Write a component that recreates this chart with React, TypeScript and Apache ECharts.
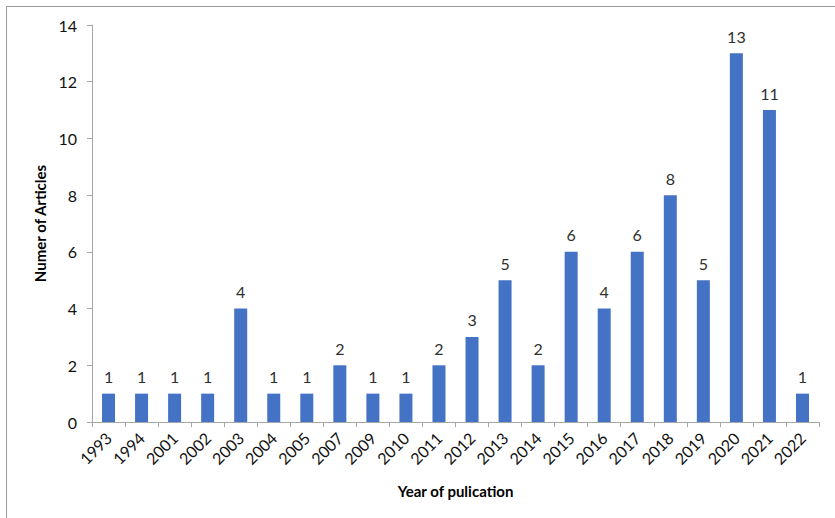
import React, { useEffect, useRef } from "react";
import * as echarts from "echarts";

const years = ["1993","1994","2001","2002","2003","2004","2005","2007","2009","2010","2011","2012","2013","2014","2015","2016","2017","2018","2019","2020","2021","2022"];
const articles = [1,1,1,1,4,1,1,2,1,1,2,3,5,2,6,4,6,8,5,13,11,1];
const xTitle = "Year of pulication";
const yTitle = "Numer of Articles";

const FONT = "Lato, 'Open Sans', sans-serif";

export default function App() {
  const ref = useRef<HTMLDivElement>(null);
  useEffect(() => {
    if (!ref.current) return;
    const chart = echarts.init(ref.current, null, { renderer: "svg" });
    chart.setOption({
      animation: false,
      grid: { left: 92, right: 16, top: 25, bottom: 96, containLabel: false },
      xAxis: {
        type: "category",
        data: years,
        name: xTitle,
        nameLocation: "middle",
        nameGap: 61,
        nameTextStyle: { fontFamily: FONT, fontSize: 15, fontWeight: "bold", color: "#000" },
        axisLine: { lineStyle: { color: "#A6A6A6" } },
        axisTick: { show: true, length: 5, lineStyle: { color: "#A6A6A6" }, alignWithLabel: false },
        axisLabel: { rotate: 45, margin: 13, interval: 0, fontFamily: FONT, fontSize: 16, color: "#111" },
      },
      yAxis: {
        type: "value",
        min: 0,
        max: 14,
        interval: 2,
        name: yTitle,
        nameLocation: "middle",
        nameGap: 40,
        nameTextStyle: { fontFamily: FONT, fontSize: 15, fontWeight: "bold", color: "#000" },
        axisLine: { show: true, lineStyle: { color: "#A6A6A6" } },
        axisTick: { show: true, length: 5, lineStyle: { color: "#A6A6A6" } },
        splitLine: { show: false },
        axisLabel: { margin: 15, fontFamily: FONT, fontSize: 16, color: "#111" },
      },
      series: [
        {
          type: "bar",
          data: articles,
          barWidth: 13,
          itemStyle: { color: "#4472C4" },
          label: { show: true, position: "top", distance: 9, fontFamily: FONT, fontSize: 16, color: "#303030" },
        },
      ],
    });
    return () => chart.dispose();
  }, []);
  return (
    <div style={{ position: "fixed", left: 0, top: 0, width: 835, height: 518, background: "#fff" }}>
      <div style={{ position: "absolute", left: 6, top: 6, width: 840, height: 520, borderLeft: "1.5px solid #9a9a9a", borderTop: "1.5px solid #9a9a9a" }} />
      <div ref={ref} style={{ position: "absolute", left: 0, top: 0, width: 835, height: 518 }} />
    </div>
  );
}
